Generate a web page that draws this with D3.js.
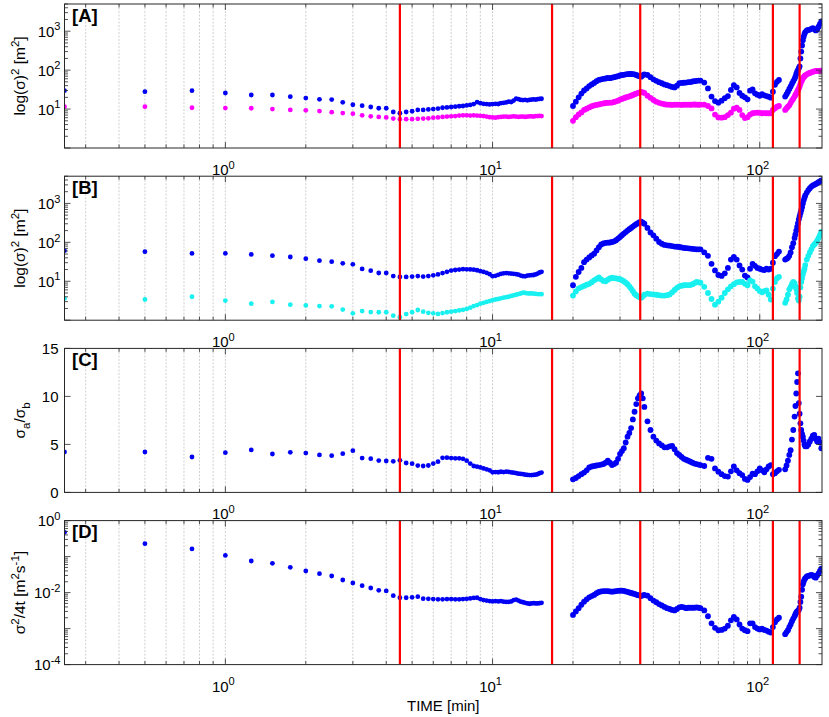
<!DOCTYPE html>
<html>
<head>
<meta charset="utf-8">
<script src="https://cdn.jsdelivr.net/npm/d3@7"></script>
<style>
body { margin:0; background:#fff; }
svg { display:block; font-family:"Liberation Sans", Arial, Helvetica, sans-serif; }
</style>
</head>
<body>
<div id="chart"></div>
<script>
// sample times [min]
var timeMin = [
  0.25,0.5,0.75,1,1.25,1.5,1.75,2,2.25,2.5,2.75,3,3.25,3.5,3.75,4,4.25,4.5,4.75,5,5.25,
  5.5,5.75,6,6.25,6.5,6.75,7,7.25,7.5,7.75, 8,8.25,8.5,8.75,9,9.25,9.5,9.75,10,10.25,
  10.5,10.75,11,11.25,11.5,11.75,12,12.25,12.5,12.75, 13,13.25,13.5,13.75,14,14.25,14.5,14.75,15,15.25,
  20,20.5,21,21.5,22,22.5,23,23.5,24,24.5,25,25.5,26,26.5,27,27.5,28,28.5,29,29.5,30,
  31,32,33,34,35,36,37,38,39,40, 41,42,43,44,45,46,47,48,49,50, 51,52,53,54,55,56,57,58,59,60,
  62,64,66,68,70,72,74,76,78,80, 82,84,86,88,90,92,94,96,98,100, 102,104,106,108,110,
  112,114,116,118,
  124.5,126,127.5,129,130.5,132,133.5,135,136,137, 138,139,140,141,142,143,144,145,146,147,
  148,150,152,154,156,158,160,162,164,166, 168,170,
  // extra samples on the climb to the 36 min event
  30.5,31.5,32.5,33.5,34.5,35.5,36.5
];

// [A] sigma^2 along the two axes [m2]
var sigA_blue = [
  29.6,27.9,29.6,25.9,23,23,20.8,19.2,17.8,17.5,14.9,12.9,12.2,11.3,10.5,10.5,8.4,7.8,8.4,8.8,9.5,
  9.5,9.8,10,10.3,10.8,11,11.3,11.5,11.8,12, 12.4,12.8,13.4,15,14.2,13.6,13.4,13.2,13.4,13.6,
  13.5,14.2,14.5,14.8,15.5,15.2,16.5,18.5,18,17.2, 17,17.3,16.8,17.2,17.5,17.8,17.5,18,18.2,18.4,
  12,15.5,20,25,30,34,39,43,47,52,56,58,60,61,63,62,64,66,68,70,73,
  76,79,80,78,72,68,78,75,66,58, 53,49,46,43,41,39,37,36,40,46, 47,47.5,48,49,49.5,51,52,53,54,54,
  48,34,21,16,14.6,16.4,19,21.6,31,41, 36,26,22,20,17.8,29.6,32,25.4,23.4,22, 24,22.6,21.6,20.8,19.6,
  28,42,50,56,
  21,24,28,33,38,45,52,60,68,80, 92,100,112,125,200,300,430,590,720,850,
  950,1050,1080,1100,1150,1190,1150,1050,1100,1300, 1550,1780,
  75,78,80,79,75,70,74
];
var sigA_magenta = [
  11.5,11.5,10.8,10.6,10.5,10,9.5,9.3,8.9,8.3,7.9,7.6,6.9,6.5,6.3,6.1,5.7,5.5,5.5,5.5,5.6,
  5.7,5.8,6,6.1,6.3,6.4,6.5,6.6,6.8,6.9, 6.9,6.8,6.9,6.8,6.7,6.6,6.4,6.2,6.1,6,
  6.2,6.3,6.4,6.4,6.3,6.4,6.5,6.4,6.3,6.4, 6.4,6.3,6.4,6.5,6.5,6.4,6.6,6.6,6.7,6.6,
  5,6.2,7.3,8.2,9.5,10.2,11,11.8,12.4,12.8,13.2,13.6,14,14.3,14.5,14.6,14.7,15.2,15.8,16.4,17.5,
  19,20.5,22,24,26,27.5,26,22,19.5,17.1, 15.5,14.5,13.8,13.3,13,13,12.8,13,13,13, 12.8,13,13,13,12.9,13,13.1,13,12.9,13,
  13,12,10.4,7.2,6.1,6,6.2,7,8.1,10.2, 10.8,9.5,7,5.9,6.2,7.2,7.8,8,8.1,8, 7.8,7.9,7.8,7.8,7.8,
  9.5,10.5,11.5,12,
  9.5,10.5,11.5,12.5,14.5,16.5,18.5,21,23,25, 28,31,34,38,44,50,55,62,66,70,
  73,78,82,85,88,91,93,95,96,96, 97,97,
  18.2,19.8,21.2,23,25,27,27
];

// [B] sigma^2 along the two axes [m2]
var sigB_blue = [
  61,57.6,52,52,49,45.5,42,38,33.8,31.8,28.9,27.2,20.7,18.7,16.3,16.3,13.6,12.9,12.9,13.2,13.6,
  13.2,13.6,14.2,15,16.2,17.5,18.8,19.5,20,20.4, 20.3,20.2,19.8,19.2,18.2,17.5,16.5,15.2,13.5,13.8,
  14.6,15.5,16,16.2,16,15.8,15.5,15.2,14.8,14, 13.5,13.4,14,14.2,14.3,14.5,15,15.8,16.8,17.5,
  7.9,13,17.3,22,31,36,41,46,51,62,75,88,94,97,98,99,102,106,113,125,137,
  168,200,235,273,310,340,300,235,180,151, 124,102,92,86,84,82,80,78,77,76, 74,72,71,70,69,68,67,66,66,66,
  55,45,28,19,14.5,13.7,16,22,36,42, 36,25.6,20,14,12.5,21,28,25,22,21, 20,19.5,21,20,21,
  30,44,50,58,
  36,38,40,45,55,75,95,130,160,200, 250,310,390,470,560,670,800,1000,1200,1400,
  1600,1900,2200,2450,2700,2900,3000,3150,3300,3500, 3700,3900,
  152,184,218,254,292,328,320
];
var sigB_cyan = [
  3.6,3.4,4,3.2,2.66,2.94,2.5,2.4,2.3,2.27,1.87,1.5,1.72,1.62,1.6,1.6,1.31,1.19,1.44,1.6,1.83,
  1.66,1.55,1.5,1.45,1.52,1.6,1.66,1.72,1.78,1.85, 1.95,2.1,2.3,2.45,2.65,2.8,2.95,3.1,3.25,3.4,
  3.5,3.65,3.8,3.9,4,4.2,4.35,4.5,4.7,4.85, 5.1,5,4.9,4.85,4.9,4.8,4.75,4.7,4.7,4.65,
  4.3,5.5,6.6,7.1,7.6,8.2,8.6,9.5,10.6,11.5,12.5,11.2,10.2,10,11,11.8,12.3,12,11.8,11.6,11.3,
  10,8.4,6.5,4.8,4.1,3.8,4.5,4.8,4.7,4.6, 4.5,4.4,4.3,4.3,4.4,4.6,5.2,6,6.8,7.4, 7.7,7.9,8,8,8,8.4,9,9.6,9.4,9.2,
  7.2,5,3.5,2.5,3,3.8,5,6.2,7.4,8.4, 9.4,9.6,9.6,8.6,7.9,10.5,9.8,7.4,6.5,5.6, 5.2,5.6,5.8,4.5,3.4,
  6.5,9.6,12,13,
  2.8,3.4,4.5,6.2,7.2,8.5,9.6,9,7.5,6.3, 5,3.6,3.2,4,7,9.6,12,15,18,21,
  26,36,45,55,66,80,88,97,110,130, 155,185,
  10.7,9.2,7.4,5.6,4.4,3.9,4.1
];

// [C] sigma_a / sigma_b
var ratioAB = [
  4.21,4.21,3.69,4.14,4.42,4,4.17,4.1,3.9,3.83,4.03,4.35,3.58,3.51,3.31,3.27,3.24,3.34,3.06,2.99,2.79,
  2.75,2.8,3,3.2,3.6,3.62,3.58,3.55,3.55,3.5, 3.3,3,2.75,2.68,2.6,2.5,2.4,2.3,2.1,2.12,
  2.1,2.15,2.12,2.16,2.14,2.08,2.05,2,1.95,1.92, 1.9,1.85,1.82,1.8,1.8,1.82,1.85,1.9,2,2.06,
  1.36,1.5,1.7,1.9,2.06,2.3,2.6,2.7,2.75,2.8,2.85,2.9,2.96,3.1,3.3,3.1,2.85,2.95,3.1,3.5,4,
  4.6,5.8,6.7,8.4,9.8,10.3,8.9,7.4,6.5,5.8, 5.4,5.1,4.9,4.7,4.7,4.8,4.85,4.5,4.1,3.9, 3.7,3.5,3.4,3.3,3.2,3.1,3,2.95,2.9,2.85,
  2.75,3.6,3.5,2.5,2.16,1.9,1.7,1.65,2.2,2.7, 2.3,2,1.8,1.4,1.3,1.6,1.95,1.9,2.2,2.5, 2.3,2.1,2.4,2.7,2.85,
  1.9,2,2.2,2.35,
  2.4,2.8,3.3,3.9,4.4,5.5,6.5,7.9,9,10.3, 11.5,12.4,9.3,8.2,7.2,6.5,6.1,5.8,5.4,5,
  4.8,4.8,5,5.3,5.6,5.9,6,5.6,5.3,5.6, 5.2,4.6,
  4.3,5.2,6.2,7.6,9.2,10.1,9.8
];

// [D] sigma^2 / 4t [m2 s-1]
var diffusivity = [
  0.472,0.229,0.163,0.108,0.0755,0.065,0.0503,0.0398,0.0336,0.0289,0.0224,0.0185,0.0156,0.0134,0.0116,0.0111,0.0082,0.0072,0.0072,0.0074,0.0077,
  0.0068,0.0067,0.0066,0.0065,0.0065,0.0066,0.0066,0.0065,0.0065,0.0066, 0.0067,0.0069,0.0071,0.0072,0.0066,0.0062,0.006,0.0058,0.0057,0.0058,
  0.0057,0.0058,0.0056,0.0055,0.0055,0.0057,0.0062,0.0064,0.006,0.0056, 0.0054,0.0052,0.005,0.0049,0.005,0.0051,0.005,0.005,0.0051,0.0052,
  0.0024,0.003,0.0037,0.0046,0.0056,0.0065,0.0074,0.008,0.0086,0.0096,0.0104,0.0108,0.011,0.011,0.011,0.0108,0.0106,0.0108,0.011,0.0112,0.0113,
  0.0112,0.0105,0.0098,0.0092,0.0085,0.008,0.0086,0.0082,0.007,0.006, 0.0054,0.0048,0.0044,0.004,0.0037,0.0035,0.0033,0.0032,0.0035,0.0039,
  0.004,0.0039,0.0037,0.0038,0.0038,0.0038,0.0038,0.0039,0.0038,0.0037,
  0.0032,0.0022,0.0014,0.00105,0.0009,0.00092,0.001,0.0012,0.0017,0.0021, 0.0018,0.0013,0.001,0.0009,0.00085,0.0014,0.0014,0.0011,0.001,0.00095,
  0.001,0.00092,0.00088,0.00082,0.00078,
  0.0011,0.0015,0.0018,0.002,
  0.0007,0.0008,0.0009,0.0011,0.0013,0.0016,0.0019,0.0022,0.0025,0.0028, 0.003,0.0031,0.0033,0.0038,0.0055,0.0077,0.012,0.017,0.02,0.023,
  0.025,0.028,0.029,0.03,0.031,0.03,0.027,0.026,0.03,0.034, 0.04,0.046,
  0.0113,0.0108,0.0101,0.0095,0.0088,0.0083,0.0084
];

// vertical red markers [min]
var eventTimes = [4.5, 16.7, 35.7, 112, 141];
var panelLabels = ["[A]", "[B]", "[C]", "[D]"];
var xTickExp = [0, 1, 2];

var W = 829, H = 717;
var left = 64.5, right = 822,
    panelTop = [4, 176.2, 348.4, 520.6],
    panelH = 144;
var axisColor = "#262626";

var svg = d3.select("#chart")
  .append("svg")
  .attr("width", W)
  .attr("height", H);

var x = d3.scaleLog()
  .domain([0.25, 171])
  .range([left, right]);

function isDecade(v){
  var l = Math.log10(v);
  return Math.abs(l - Math.round(l)) < 1e-6;
}

// markers sit closer together after 18 min, draw them a bit fatter so they merge like the original
function dotR(t){ return t < 18 ? 2.4 : 2.9; }

// text with superscripts/subscripts, parts = [[text, "n"|"sup"|"sub"], ...]
function richText(sel, parts, size){
  var shift = 0;
  parts.forEach(function(p){
    var target = p[1] == "sup" ? -0.42*size : (p[1] == "sub" ? 0.32*size : 0);
    sel.append("tspan")
      .attr("dy", target - shift)
      .style("font-size", (p[1] == "n" ? size : size*0.74) + "px")
      .text(p[0]);
    shift = target;
  });
}

var panels = [
  {type:"log", domain:[1,5000], labelExp:[1,2,3],
   series:[[sigA_blue,"#0000f5"],[sigA_magenta,"#ff00ff"]],
   ylab:[["log(σ)","n"],["2","sup"],[" [m","n"],["2","sup"],["]","n"]]},
  {type:"log", domain:[1,5000], labelExp:[1,2,3],
   series:[[sigB_blue,"#0000f5"],[sigB_cyan,"#19f0f0"]],
   ylab:[["log(σ)","n"],["2","sup"],[" [m","n"],["2","sup"],["]","n"]]},
  {type:"lin", domain:[0,15], ticks:[0,5,10,15],
   series:[[ratioAB,"#0000f5"]],
   ylab:[["σ","n"],["a","sub"],["/σ","n"],["b","sub"]]},
  {type:"log", domain:[1e-4,1], labelExp:[-4,-2,0],
   series:[[diffusivity,"#0000f5"]],
   ylab:[["σ","n"],["2","sup"],["/4t [m","n"],["2","sup"],["s","n"],["-1","sup"],["]","n"]]}
];

panels.forEach(function(p, i){
  var top = panelTop[i], bottom = top + panelH;
  var y = (p.type == "log" ? d3.scaleLog() : d3.scaleLinear())
    .domain(p.domain)
    .range([bottom, top]);

  var g = svg.append("g").attr("class", "panel");

  svg.append("clipPath")
    .attr("id", "clip" + i)
    .append("rect")
    .attr("x", left).attr("y", top)
    .attr("width", right - left).attr("height", panelH);

  // vertical grid at every log tick
  var xt = x.ticks();
  g.selectAll(".grid")
    .data(xt)
    .enter()
    .append("line")
    .attr("class", "grid")
    .attr("x1", function(d){ return x(d); })
    .attr("x2", function(d){ return x(d); })
    .attr("y1", top).attr("y2", bottom)
    .style("stroke", "#c4c4c4")
    .style("stroke-width", 0.8)
    .style("stroke-dasharray", "2,1.5");

  var plot = g.append("g").attr("clip-path", "url(#clip" + i + ")");

  p.series.forEach(function(s){
    var pts = timeMin.map(function(t, k){ return {t:t, v:s[0][k]}; })
      .filter(function(d){ return d.v != null; });
    plot.selectAll(null)
      .data(pts)
      .enter()
      .append("circle")
      .attr("cx", function(d){ return x(d.t); })
      .attr("cy", function(d){ return y(d.v); })
      .attr("r", function(d){ return dotR(d.t); })
      .style("fill", s[1]);
  });

  plot.selectAll(".event")
    .data(eventTimes)
    .enter()
    .append("line")
    .attr("class", "event")
    .attr("x1", function(d){ return x(d); })
    .attr("x2", function(d){ return x(d); })
    .attr("y1", top).attr("y2", bottom)
    .style("stroke", "#ff0000")
    .style("stroke-width", 2.2);

  // x ticks (inside, bottom and top)
  xt.forEach(function(v){
    var len = isDecade(v) ? 6 : 3.5;
    g.append("line").attr("x1", x(v)).attr("x2", x(v))
      .attr("y1", bottom).attr("y2", bottom - len)
      .style("stroke", axisColor).style("stroke-width", 0.8);
    g.append("line").attr("x1", x(v)).attr("x2", x(v))
      .attr("y1", top).attr("y2", top + len)
      .style("stroke", axisColor).style("stroke-width", 0.8);
  });

  // y ticks (inside, left and right)
  var yt = p.type == "log" ? y.ticks() : p.ticks;
  yt.forEach(function(v){
    var len = (p.type == "lin" || isDecade(v)) ? 6 : 3.5;
    g.append("line").attr("x1", left).attr("x2", left + len)
      .attr("y1", y(v)).attr("y2", y(v))
      .style("stroke", axisColor).style("stroke-width", 0.8);
    g.append("line").attr("x1", right).attr("x2", right - len)
      .attr("y1", y(v)).attr("y2", y(v))
      .style("stroke", axisColor).style("stroke-width", 0.8);
  });

  // frame
  g.append("rect")
    .attr("x", left).attr("y", top)
    .attr("width", right - left).attr("height", panelH)
    .style("fill", "none")
    .style("stroke", axisColor)
    .style("stroke-width", 1);

  // y tick labels
  if(p.type == "log"){
    p.labelExp.forEach(function(e){
      var t = g.append("text")
        .attr("x", left - 4)
        .attr("y", y(Math.pow(10, e)) + 5.5)
        .attr("text-anchor", "end")
        .style("fill", "#000");
      richText(t, [["10","n"],[String(e),"sup"]], 15);
    });
  } else {
    p.ticks.forEach(function(v){
      g.append("text")
        .attr("x", left - 6)
        .attr("y", y(v) + 5.5)
        .attr("text-anchor", "end")
        .style("font-size", "15px")
        .text(v);
    });
  }

  // x tick labels below each panel
  xTickExp.forEach(function(e){
    var t = g.append("text")
      .attr("x", x(Math.pow(10, e)) - 2)
      .attr("y", bottom + 27)
      .attr("text-anchor", "middle");
    richText(t, [["10","n"],[String(e),"sup"]], 15);
  });

  // y axis title
  var yl = g.append("text")
    .attr("transform", "translate(25," + (top + panelH/2) + ") rotate(-90)")
    .attr("text-anchor", "middle");
  richText(yl, p.ylab, 15.5);

  // panel letter
  g.append("text")
    .attr("x", left + 7.5)
    .attr("y", top + 17.7)
    .style("font-size", "18.5px")
    .style("font-weight", "bold")
    .text(panelLabels[i]);
});

svg.append("text")
  .attr("x", (left + right)/2)
  .attr("y", 711)
  .attr("text-anchor", "middle")
  .style("font-size", "15px")
  .text("TIME [min]");
</script>
</body>
</html>
